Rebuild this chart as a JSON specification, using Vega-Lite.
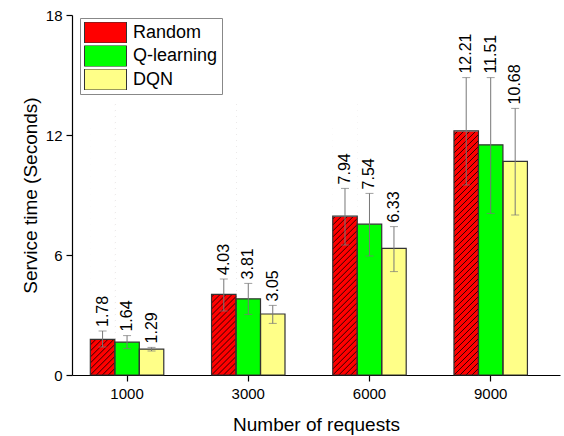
{
  "$schema": "https://vega.github.io/schema/vega-lite/v6.json",
  "autosize": {"type": "none"},
  "padding": {"left": 72, "top": 15, "right": 4, "bottom": 61},
  "width": 488,
  "height": 360,
  "background": "white",
  "config": {
    "font": "Liberation Sans",
    "view": {"stroke": null},
    "axis": {"grid": false, "domainColor": "#000", "tickColor": "#000", "labelColor": "#000", "titleColor": "#000", "labelFont": "Liberation Sans", "titleFont": "Liberation Sans", "labelFontSize": 15, "titleFontSize": 19, "titleFontWeight": "normal", "tickSize": 6, "domainWidth": 1.2, "tickWidth": 1.2}
  },
  "data": {"values": [
    {"requests": "1000", "method": "Random", "value": 1.78, "lo": 1.4, "hi": 2.2},
    {"requests": "1000", "method": "Q-learning", "value": 1.64, "lo": 1.32, "hi": 1.97},
    {"requests": "1000", "method": "DQN", "value": 1.29, "lo": 1.2, "hi": 1.38},
    {"requests": "3000", "method": "Random", "value": 4.03, "lo": 3.2, "hi": 4.8},
    {"requests": "3000", "method": "Q-learning", "value": 3.81, "lo": 3.03, "hi": 4.58},
    {"requests": "3000", "method": "DQN", "value": 3.05, "lo": 2.58, "hi": 3.48},
    {"requests": "6000", "method": "Random", "value": 7.94, "lo": 6.5, "hi": 9.33},
    {"requests": "6000", "method": "Q-learning", "value": 7.54, "lo": 5.95, "hi": 9.08},
    {"requests": "6000", "method": "DQN", "value": 6.33, "lo": 5.17, "hi": 7.42},
    {"requests": "9000", "method": "Random", "value": 12.21, "lo": 9.5, "hi": 14.87},
    {"requests": "9000", "method": "Q-learning", "value": 11.51, "lo": 8.08, "hi": 14.87},
    {"requests": "9000", "method": "DQN", "value": 10.68, "lo": 8.0, "hi": 13.33}
  ]},
  "encoding": {
    "x": {"field": "requests", "type": "ordinal", "sort": ["1000", "3000", "6000", "9000"],
      "scale": {"paddingInner": 0.394, "paddingOuter": 0.21, "align": 0.36},
      "axis": {"title": "Number of requests", "labelAngle": 0, "labelPadding": 5, "titlePadding": 14}},
    "xOffset": {"field": "method", "type": "nominal", "sort": ["Random", "Q-learning", "DQN"], "scale": {"domain": ["Random", "Q-learning", "DQN"], "paddingInner": 0, "paddingOuter": 0}}
  },
  "layer": [
    {
      "mark": {"type": "bar", "strokeWidth": 0},
      "encoding": {
        "y": {"field": "value", "type": "quantitative", "scale": {"domain": [0, 18], "nice": false},
          "axis": {"title": "Service time (Seconds)", "values": [0, 6, 12, 18], "labelPadding": 4, "titlePadding": 5}},
        "fill": {
          "field": "method", "type": "nominal", "sort": ["Random", "Q-learning", "DQN"],
          "scale": {"domain": ["Random", "Q-learning", "DQN"], "range": ["#ff0000", "#00ff00", "#ffff88"]},
          "legend": {
            "title": null, "orient": "none", "legendX": 8, "legendY": 3,
            "symbolType": "M-2,-1H2V1H-2Z", "symbolSize": 441, "symbolStrokeColor": "#333", "symbolStrokeWidth": 1, "symbolOpacity": 1,
            "symbolOffset": 10.5, "labelOffset": 16.5, "labelFontSize": 18, "labelFont": "Liberation Sans", "labelColor": "#000",
            "strokeColor": "#888", "padding": 4, "rowPadding": 2.5, "clipHeight": 21
          }
        }
      }
    },
    {
      "transform": [{"filter": "datum.method === 'Random'"}],
      "mark": {"type": "point", "filled": false, "size": 4, "color": "#1a0000", "strokeWidth": 0.9, "opacity": 1,
        "shape": "M-12.24,0L12.24,-24.48M-12.24,-6L12.24,-30.48M-12.24,-12L12.24,-36.48M-12.24,-18L12.24,-42.48M-12.24,-24L12.24,-48.48M-12.24,-30L12.24,-54.48M-12.24,-36L12.24,-60.48M-12.24,-42L12.24,-66.48M-12.24,-48L12.24,-72.48M-12.24,-54L12.24,-78.48M-12.24,-60L12.24,-84.48M-12.24,-66L12.24,-90.48M-12.24,-72L12.24,-96.48M-12.24,-78L12.24,-102.48M-12.24,-84L12.24,-108.48M-12.24,-90L12.24,-114.48M-12.24,-96L12.24,-120.48M-12.24,-102L12.24,-126.48M-12.24,-108L12.24,-132.48M-12.24,-114L12.24,-138.48M-12.24,-120L12.24,-144.48M-12.24,-126L12.24,-150.48M-12.24,-132L12.24,-156.48M-12.24,-138L12.24,-162.48M-12.24,-144L12.24,-168.48M-12.24,-150L12.24,-174.48M-12.24,-156L12.24,-180.48M-12.24,-162L12.24,-186.48M-12.24,-168L12.24,-192.48M-12.24,-174L12.24,-198.48M-12.24,-180L12.24,-204.48M-12.24,-186L12.24,-210.48M-12.24,-192L12.24,-216.48M-12.24,-198L12.24,-222.48M-12.24,-204L12.24,-228.48M-12.24,-210L12.24,-234.48M-12.24,-216L12.24,-240.48M-12.24,-222L12.24,-246.48M-12.24,-228L12.24,-252.48M-12.24,-234L12.24,-258.48M-12.24,-240L12.24,-264.48M-12.24,-246L12.24,-270.48M-6.24,0L12.24,-18.48M-0.24,0L12.24,-12.48M5.76,0L12.24,-6.48"},
      "encoding": {"y": {"datum": 0, "type": "quantitative"}}
    },
    {
      "transform": [{"filter": "datum.method === 'Random'"}],
      "mark": {"type": "bar", "color": "white", "stroke": "white", "strokeWidth": 1.2},
      "encoding": {"y": {"field": "value", "type": "quantitative"}, "y2": {"datum": 13.7}}
    },
    {
      "mark": {"type": "bar", "fillOpacity": 0, "stroke": "#333", "strokeWidth": 1.2},
      "encoding": {"y": {"field": "value", "type": "quantitative"}}
    },
    {
      "mark": {"type": "rule", "color": "#777", "strokeWidth": 1},
      "encoding": {"y": {"field": "lo", "type": "quantitative"}, "y2": {"field": "hi"}}
    },
    {
      "mark": {"type": "tick", "color": "#777", "size": 8, "thickness": 1, "orient": "horizontal"},
      "encoding": {"y": {"field": "lo", "type": "quantitative"}}
    },
    {
      "mark": {"type": "tick", "color": "#777", "size": 8, "thickness": 1, "orient": "horizontal"},
      "encoding": {"y": {"field": "hi", "type": "quantitative"}}
    },
    {
      "mark": {"type": "text", "angle": 270, "align": "left", "baseline": "middle", "dx": 4, "fontSize": 16, "font": "Liberation Sans", "color": "#000"},
      "encoding": {"y": {"field": "hi", "type": "quantitative"}, "text": {"field": "value", "type": "quantitative", "format": ".2f"}}
    }
  ]
}
